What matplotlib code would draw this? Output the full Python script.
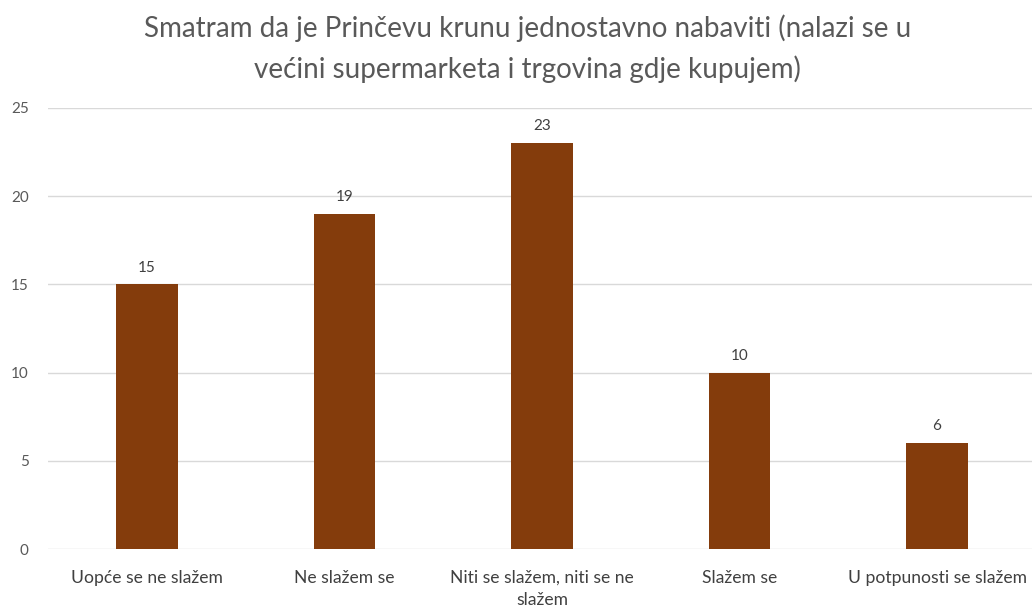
import matplotlib
matplotlib.use("Agg")
import matplotlib.pyplot as plt

categories = ["Uopće se ne slažem", "Ne slažem se", "Niti se slažem, niti se ne\nslažem",
              "Slažem se", "U potpunosti se slažem"]
values = [15, 19, 23, 10, 6]
yticks = [0, 5, 10, 15, 20, 25]
title = "Smatram da je Prinčevu krunu jednostavno nabaviti (nalazi se u\nvećini supermarketa i trgovina gdje kupujem)"

plt.rcParams['font.family'] = ['Lato', 'DejaVu Sans']
fig = plt.figure(figsize=(10.32, 6.06), dpi=100)
ax = fig.add_axes([0.0467, 0.094, 0.957, 0.728])

x = range(len(categories))
bars = ax.bar(x, values, width=0.31, color="#843C0C", zorder=3)
for xi, v in zip(x, values):
    ax.text(xi, v + 0.55, str(v), ha="center", va="bottom", fontsize=11, color="#404040")

ax.set_xlim(-0.5, len(categories) - 0.5)
ax.set_ylim(0, 25)
ax.set_yticks(yticks)
ax.set_xticks(list(x))
ax.set_xticklabels(categories, fontsize=12.6, color="#404040", linespacing=1.45)
ax.tick_params(axis="y", labelsize=11, labelcolor="#595959", length=0, pad=14)
ax.tick_params(axis="x", length=0, pad=15)
ax.grid(axis="y", color="#d9d9d9", linewidth=1, zorder=0)
for s in ax.spines.values():
    s.set_visible(False)

fig.text(0.511, 0.976, title, ha="center", va="top", fontsize=20, color="#595959", linespacing=1.58)
fig.savefig("out.png", dpi=100)
